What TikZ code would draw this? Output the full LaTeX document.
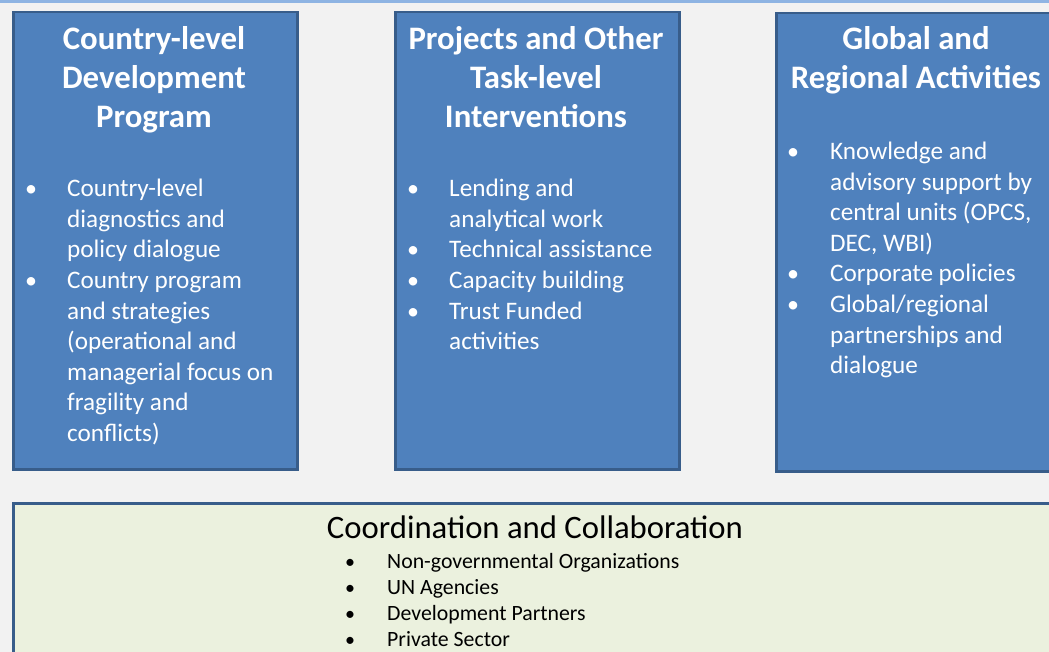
\documentclass[tikz,border=0pt]{standalone}
\usepackage{fontspec}
\setmainfont{Carlito}
\definecolor{bg}{HTML}{F2F2F2}
\definecolor{strip}{HTML}{8EB4E3}
\definecolor{boxfill}{HTML}{4F81BD}
\definecolor{boxline}{HTML}{385D8A}
\definecolor{greenfill}{HTML}{EBF1DE}
\begin{document}
\begin{tikzpicture}[x=1pt,y=-1pt,
  panel/.style={draw=boxline, line width=2.5pt, fill=boxfill, anchor=north west, inner sep=0},
  greenpanel/.style={draw=boxline, line width=2.5pt, fill=greenfill, anchor=north west, inner sep=0},
  title/.style={text=white, font=\fontsize{32.8}{39}\selectfont\bfseries, anchor=base, inner sep=0},
  btext/.style={text=white, font=\fontsize{25.2}{30.5}\selectfont, anchor=base west, inner sep=0},
  bdot/.style={text=white, font=\fontsize{24}{30.5}\selectfont, anchor=base, inner sep=0},
  gtitle/.style={text=black, font=\fontsize{32.7}{38}\selectfont, anchor=base, inner sep=0},
  gtext/.style={text=black, font=\fontsize{21.8}{26}\selectfont, anchor=base west, inner sep=0},
  gdot/.style={text=black, font=\fontsize{20}{26}\selectfont, anchor=base, inner sep=0}
]
\useasboundingbox (0,0) rectangle (1049,652);
\begin{scope}
\clip (0,0) rectangle (1049,652);
\fill[bg] (0,0) rectangle (1049,652);
\fill[strip] (0,0) rectangle (1049,3.5);

% panels
\node[panel, minimum width=284pt, minimum height=457pt] (p1) at (12,11) {};
\node[panel, minimum width=284pt, minimum height=457pt] (p2) at (394,11) {};
\node[panel, minimum width=320pt, minimum height=458pt] (p3) at (775,12) {};
\node[greenpanel, minimum width=1100pt, minimum height=220pt] (p4) at (12,502) {};

% titles
\node[title] (t1a) at (154,50) {Country-level};
\node[title] (t1b) at (154,89) {Development};
\node[title] (t1c) at (154,128) {Program};
\node[title] (t2a) at (536,50) {Projects and Other};
\node[title] (t2b) at (536,89) {Task-level};
\node[title] (t2c) at (536,128) {Interventions};
\node[title] (t3a) at (916,50) {Global and};
\node[title] (t3b) at (916,89) {Regional Activities};

% box 1 bullets
\foreach \t [count=\i] in {{Country-level}, {diagnostics and}, {policy dialogue}, {Country program}, {and strategies}, {(operational and}, {managerial focus on}, {fragility and}, {conflicts)}}
  \node[btext] (a\i) at (67,{197+30.5*(\i-1)}) {\t};
\foreach \i in {1,4}
  \node[bdot] (ad\i) at (31,{197+30.5*(\i-1)}) {•};

% box 2 bullets
\foreach \t [count=\i] in {{Lending and}, {analytical work}, {Technical assistance}, {Capacity building}, {Trust Funded}, {activities}}
  \node[btext] (b\i) at (449,{197+30.5*(\i-1)}) {\t};
\foreach \i in {1,3,4,5}
  \node[bdot] (bd\i) at (413,{197+30.5*(\i-1)}) {•};

% box 3 bullets
\foreach \t [count=\i] in {{Knowledge and}, {advisory support by}, {central units (OPCS,}, {DEC, WBI)}, {Corporate policies}, {Global/regional}, {partnerships and}, {dialogue}}
  \node[btext] (c\i) at (830,{160+30.5*(\i-1)}) {\t};
\foreach \i in {1,5,6}
  \node[bdot] (cd\i) at (793,{160+30.5*(\i-1)}) {•};

% bottom
\node[gtitle] (gt) at (535,538) {Coordination and Collaboration};
\foreach \t [count=\i] in {{Non-governmental Organizations}, {UN Agencies}, {Development Partners}, {Private Sector}}
{
  \node[gtext] (g\i) at (387,{568+26*(\i-1)}) {\t};
  \node[gdot] (gd\i) at (350,{568+26*(\i-1)}) {•};
}
\end{scope}
\end{tikzpicture}
\end{document}
